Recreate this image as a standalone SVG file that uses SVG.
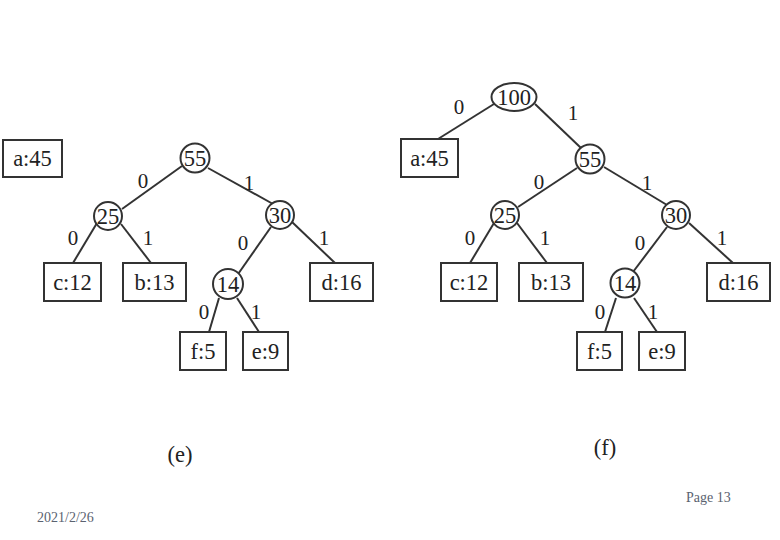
<svg xmlns="http://www.w3.org/2000/svg" width="780" height="540" viewBox="0 0 780 540">
<style>
.box{fill:#fff;stroke:#333;stroke-width:2}
.nd{fill:#fff;stroke:#333;stroke-width:2}
.t{font-family:"Liberation Serif","Times New Roman",serif;font-size:22.5px;fill:#222;text-anchor:middle}
.lb{font-family:"Liberation Serif","Times New Roman",serif;font-size:21px;fill:#222;text-anchor:middle}
.e line{stroke:#333;stroke-width:2}
.ft{font-family:"Liberation Serif","Times New Roman",serif;font-size:14px;fill:#5a6270}
</style>
<rect width="780" height="540" fill="#fff"/>
<g id="connectors" class="e">
<line x1="182" y1="166" x2="122" y2="209"/>
<line x1="208" y1="168" x2="273" y2="204"/>
<line x1="97" y1="223" x2="73" y2="263"/>
<line x1="121" y1="224" x2="151" y2="263"/>
<line x1="271" y1="227" x2="236" y2="277"/>
<line x1="292" y1="222" x2="335" y2="263"/>
<line x1="219" y1="298" x2="209" y2="332"/>
<line x1="237" y1="298" x2="259" y2="332"/>
<line x1="494" y1="104" x2="438" y2="139"/>
<line x1="535" y1="104" x2="581" y2="148"/>
<line x1="577" y1="168" x2="518" y2="207"/>
<line x1="604" y1="167" x2="667" y2="205"/>
<line x1="494" y1="223" x2="470" y2="263"/>
<line x1="517" y1="223" x2="547" y2="263"/>
<line x1="667" y1="227" x2="633" y2="272"/>
<line x1="689" y1="223" x2="733" y2="263"/>
<line x1="616" y1="298" x2="605" y2="332"/>
<line x1="634" y1="298" x2="657" y2="332"/>
</g>
<g id="labels">
<text class="lb" x="143" y="188">0</text>
<text class="lb" x="249" y="190">1</text>
<text class="lb" x="73" y="245">0</text>
<text class="lb" x="148" y="245">1</text>
<text class="lb" x="243" y="250">0</text>
<text class="lb" x="324" y="245">1</text>
<text class="lb" x="204" y="319">0</text>
<text class="lb" x="256" y="319">1</text>
<text class="lb" x="459" y="114">0</text>
<text class="lb" x="573" y="120">1</text>
<text class="lb" x="539" y="189">0</text>
<text class="lb" x="647" y="190">1</text>
<text class="lb" x="470" y="245">0</text>
<text class="lb" x="545" y="245">1</text>
<text class="lb" x="640" y="250">0</text>
<text class="lb" x="722" y="245">1</text>
<text class="lb" x="600" y="319">0</text>
<text class="lb" x="653" y="319">1</text>
</g>
<g id="e-a45"><rect class="box" x="3" y="140" width="59" height="37"/><text class="t" x="32.5" y="166">a:45</text></g>
<g id="e-55"><circle class="nd" cx="195" cy="158" r="14.5"/><text class="t" x="195" y="165.5">55</text></g>
<g id="e-25"><circle class="nd" cx="108" cy="216" r="14"/><text class="t" x="108" y="223.5">25</text></g>
<g id="e-30"><circle class="nd" cx="280" cy="215" r="14"/><text class="t" x="280" y="222.5">30</text></g>
<g id="e-c12"><rect class="box" x="44" y="263" width="57" height="38"/><text class="t" x="72.5" y="290">c:12</text></g>
<g id="e-b13"><rect class="box" x="123" y="263" width="63" height="38"/><text class="t" x="154.5" y="290">b:13</text></g>
<g id="e-14"><circle class="nd" cx="228" cy="284" r="15"/><text class="t" x="228" y="291.5">14</text></g>
<g id="e-d16"><rect class="box" x="310" y="263" width="63" height="38"/><text class="t" x="341.5" y="290">d:16</text></g>
<g id="e-f5"><rect class="box" x="180" y="332" width="46" height="38"/><text class="t" x="203" y="359">f:5</text></g>
<g id="e-e9"><rect class="box" x="243" y="332" width="45" height="38"/><text class="t" x="265.5" y="359">e:9</text></g>
<g id="f-100"><ellipse class="nd" cx="514" cy="97" rx="22.5" ry="14"/><text class="t" x="514" y="104.5">100</text></g>
<g id="f-a45"><rect class="box" x="401" y="139" width="57" height="38"/><text class="t" x="429.5" y="166">a:45</text></g>
<g id="f-55"><circle class="nd" cx="590" cy="159" r="14.5"/><text class="t" x="590" y="166.5">55</text></g>
<g id="f-25"><circle class="nd" cx="505" cy="215" r="14"/><text class="t" x="505" y="222.5">25</text></g>
<g id="f-30"><circle class="nd" cx="676" cy="215" r="14"/><text class="t" x="676" y="222.5">30</text></g>
<g id="f-c12"><rect class="box" x="441" y="263" width="56" height="38"/><text class="t" x="469" y="290">c:12</text></g>
<g id="f-b13"><rect class="box" x="519" y="263" width="64" height="38"/><text class="t" x="551" y="290">b:13</text></g>
<g id="f-14"><circle class="nd" cx="625" cy="283" r="14.5"/><text class="t" x="625" y="290.5">14</text></g>
<g id="f-d16"><rect class="box" x="707" y="263" width="63" height="38"/><text class="t" x="738.5" y="290">d:16</text></g>
<g id="f-f5"><rect class="box" x="577" y="332" width="45" height="38"/><text class="t" x="599.5" y="359">f:5</text></g>
<g id="f-e9"><rect class="box" x="639" y="332" width="46" height="38"/><text class="t" x="662" y="359">e:9</text></g>
<text class="t" x="180" y="462">(e)</text>
<text class="t" x="605" y="455">(f)</text>
<text class="ft" x="686" y="502">Page 13</text>
<text class="ft" x="37" y="522">2021/2/26</text>
</svg>
